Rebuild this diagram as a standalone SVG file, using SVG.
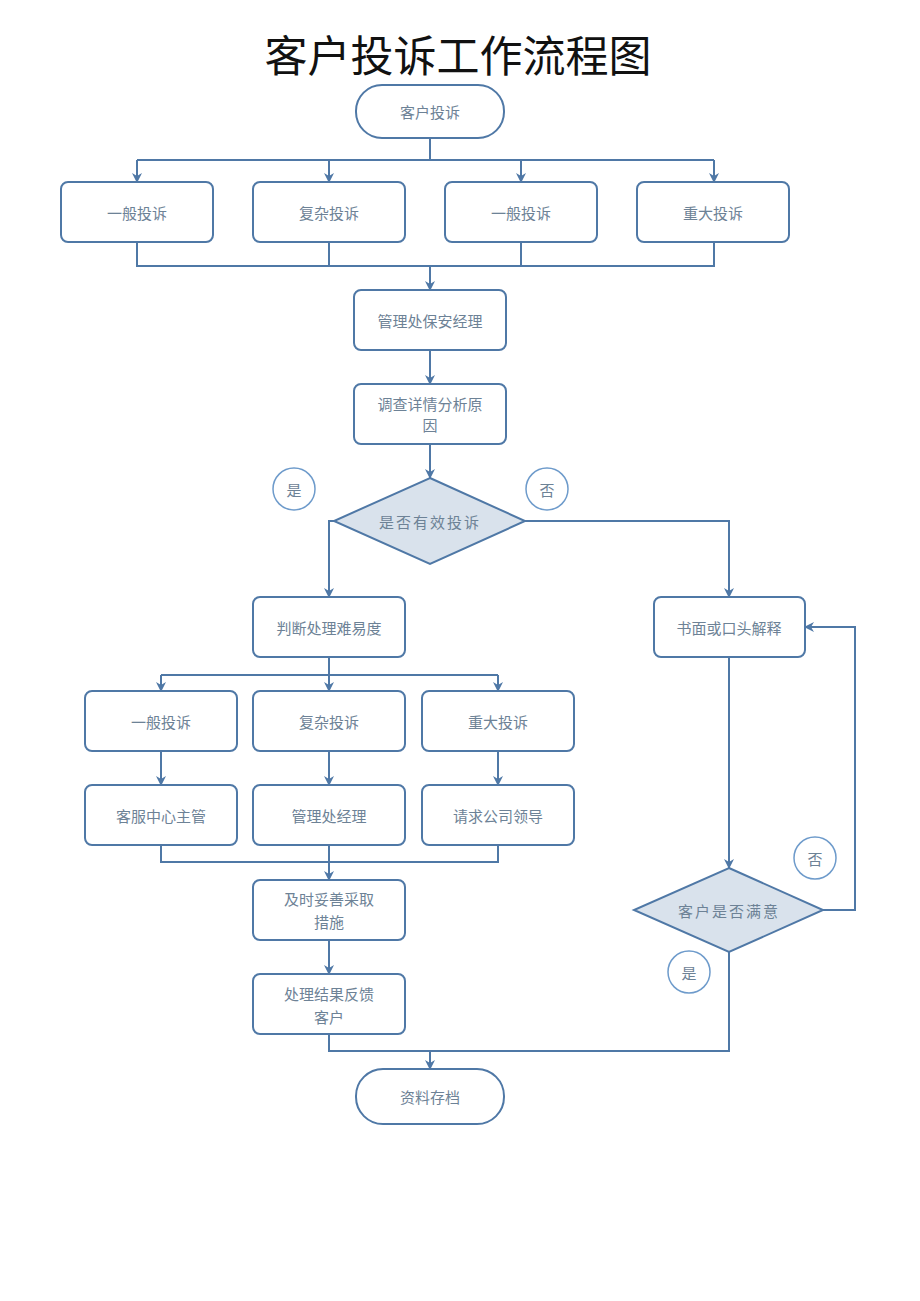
<svg xmlns="http://www.w3.org/2000/svg" width="920" height="1301" viewBox="0 0 920 1301">
<defs>
<style>
.n{fill:#fff;stroke:#4f78a6;stroke-width:2}
.d{fill:#d9e2ec;stroke:#4f78a6;stroke-width:2}
.c{fill:#fff;stroke:#6e9bcb;stroke-width:1.5}
.t{font-family:"Noto Sans CJK SC","Noto Sans",sans-serif;font-size:15px;fill:#6d8296;text-anchor:middle;dominant-baseline:central}
.e{fill:none;stroke:#4f78a6;stroke-width:2}
.title{font-family:"Noto Sans CJK SC",sans-serif;font-size:43px;fill:#111;text-anchor:middle}
</style>
<marker id="a" viewBox="0 0 10 10" refX="9" refY="5" markerWidth="5" markerHeight="5" orient="auto-start-reverse" markerUnits="strokeWidth">
<path d="M0,0 L10,5 L0,10 L3,5 z" fill="#4f78a6"/>
</marker>
</defs>
<rect width="920" height="1301" fill="#fff"/>
<text class="title" x="458" y="72">客户投诉工作流程图</text>

<g id="connectors">
<path class="e" d="M430,138 V160 M137,160 H714"/>
<path class="e" d="M137,160 V182" marker-end="url(#a)"/>
<path class="e" d="M329,160 V182" marker-end="url(#a)"/>
<path class="e" d="M521,160 V182" marker-end="url(#a)"/>
<path class="e" d="M714,160 V182" marker-end="url(#a)"/>
<path class="e" d="M137,242 V266 H714 V242 M329,242 V266 M521,242 V266"/>
<path class="e" d="M430,266 V290" marker-end="url(#a)"/>
<path class="e" d="M430,350 V384" marker-end="url(#a)"/>
<path class="e" d="M430,444 V478" marker-end="url(#a)"/>
<path class="e" d="M334,521 H329 V597" marker-end="url(#a)"/>
<path class="e" d="M525,521 H729 V597" marker-end="url(#a)"/>
<path class="e" d="M329,657 V675 M161,675 H498"/>
<path class="e" d="M161,675 V691" marker-end="url(#a)"/>
<path class="e" d="M329,675 V691" marker-end="url(#a)"/>
<path class="e" d="M498,675 V691" marker-end="url(#a)"/>
<path class="e" d="M161,751 V785" marker-end="url(#a)"/>
<path class="e" d="M329,751 V785" marker-end="url(#a)"/>
<path class="e" d="M498,751 V785" marker-end="url(#a)"/>
<path class="e" d="M161,845 V862 H498 V845 M329,845 V862"/>
<path class="e" d="M329,862 V880" marker-end="url(#a)"/>
<path class="e" d="M329,940 V974" marker-end="url(#a)"/>
<path class="e" d="M329,1034 V1051 H729 V952"/>
<path class="e" d="M430,1051 V1069" marker-end="url(#a)"/>
<path class="e" d="M729,657 V868" marker-end="url(#a)"/>
<path class="e" d="M823,910 H855 V627 H805" marker-end="url(#a)"/>
</g>

<g id="start"><rect class="n" x="356" y="85" width="148" height="53" rx="26"/><text class="t" x="430" y="111">客户投诉</text></g>
<g id="r1a"><rect class="n" x="61" y="182" width="152" height="60" rx="7"/><text class="t" x="137" y="212">一般投诉</text></g>
<g id="r1b"><rect class="n" x="253" y="182" width="152" height="60" rx="7"/><text class="t" x="329" y="212">复杂投诉</text></g>
<g id="r1c"><rect class="n" x="445" y="182" width="152" height="60" rx="7"/><text class="t" x="521" y="212">一般投诉</text></g>
<g id="r1d"><rect class="n" x="637" y="182" width="152" height="60" rx="7"/><text class="t" x="713" y="212">重大投诉</text></g>
<g id="mgr"><rect class="n" x="354" y="290" width="152" height="60" rx="7"/><text class="t" x="430" y="320">管理处保安经理</text></g>
<g id="inv"><rect class="n" x="354" y="384" width="152" height="60" rx="7"/><text class="t" x="430" y="403">调查详情分析原</text><text class="t" x="430" y="424">因</text></g>
<g id="valid"><polygon class="d" points="430,478 525,521 430,564 334,521"/><text class="t" x="430" y="521" letter-spacing="2">是否有效投诉</text></g>
<g id="yes1"><circle class="c" cx="294" cy="489" r="21"/><text class="t" x="294" y="489">是</text></g>
<g id="no1"><circle class="c" cx="547" cy="489" r="21"/><text class="t" x="547" y="489">否</text></g>
<g id="judge"><rect class="n" x="253" y="597" width="152" height="60" rx="7"/><text class="t" x="329" y="627">判断处理难易度</text></g>
<g id="explain"><rect class="n" x="654" y="597" width="151" height="60" rx="7"/><text class="t" x="729" y="627">书面或口头解释</text></g>
<g id="r2a"><rect class="n" x="85" y="691" width="152" height="60" rx="7"/><text class="t" x="161" y="721">一般投诉</text></g>
<g id="r2b"><rect class="n" x="253" y="691" width="152" height="60" rx="7"/><text class="t" x="329" y="721">复杂投诉</text></g>
<g id="r2c"><rect class="n" x="422" y="691" width="152" height="60" rx="7"/><text class="t" x="498" y="721">重大投诉</text></g>
<g id="r3a"><rect class="n" x="85" y="785" width="152" height="60" rx="7"/><text class="t" x="161" y="815">客服中心主管</text></g>
<g id="r3b"><rect class="n" x="253" y="785" width="152" height="60" rx="7"/><text class="t" x="329" y="815">管理处经理</text></g>
<g id="r3c"><rect class="n" x="422" y="785" width="152" height="60" rx="7"/><text class="t" x="498" y="815">请求公司领导</text></g>
<g id="act"><rect class="n" x="253" y="880" width="152" height="60" rx="7"/><text class="t" x="329" y="898">及时妥善采取</text><text class="t" x="329" y="921">措施</text></g>
<g id="fb"><rect class="n" x="253" y="974" width="152" height="60" rx="7"/><text class="t" x="329" y="993">处理结果反馈</text><text class="t" x="329" y="1016">客户</text></g>
<g id="sat"><polygon class="d" points="729,868 823,910 729,952 634,910"/><text class="t" x="729" y="910" letter-spacing="2">客户是否满意</text></g>
<g id="no2"><circle class="c" cx="815" cy="858" r="21"/><text class="t" x="815" y="858">否</text></g>
<g id="yes2"><circle class="c" cx="689" cy="972" r="21"/><text class="t" x="689" y="972">是</text></g>
<g id="end"><rect class="n" x="356" y="1069" width="148" height="55" rx="27"/><text class="t" x="430" y="1096">资料存档</text></g>
</svg>
